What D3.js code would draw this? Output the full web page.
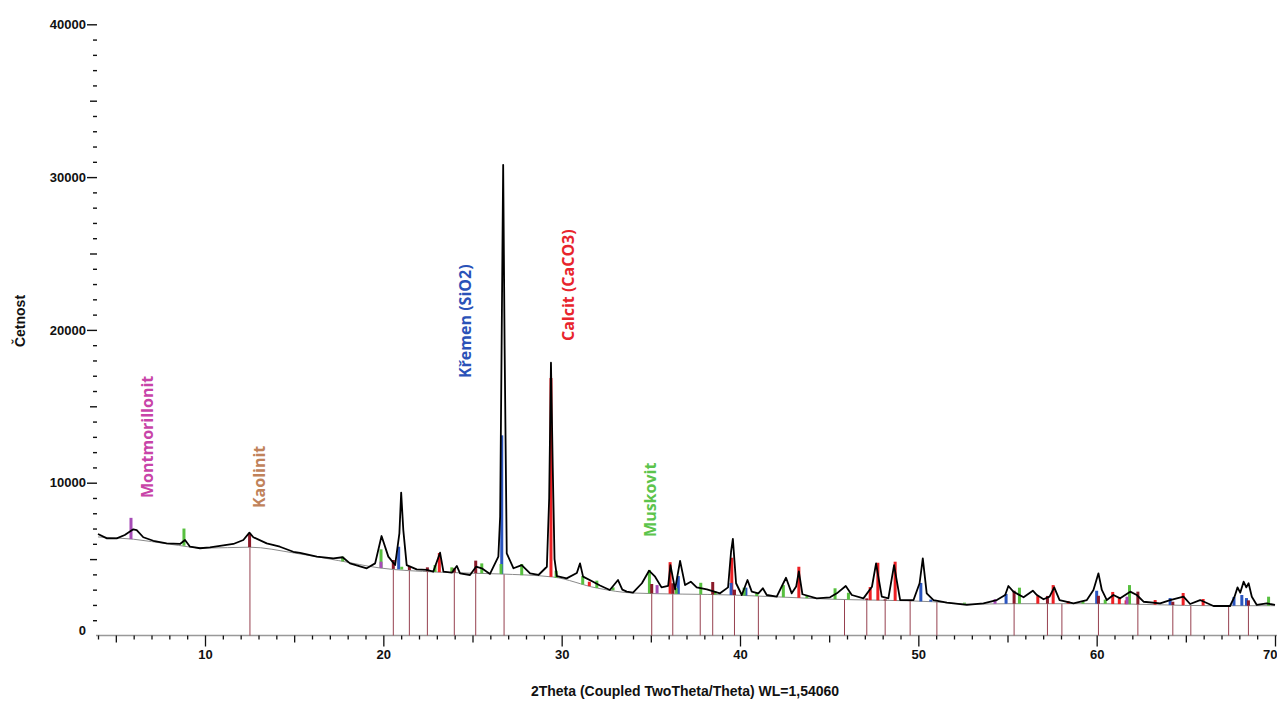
<!DOCTYPE html>
<html>
<head>
<meta charset="utf-8">
<script src="https://cdn.jsdelivr.net/npm/d3@7"></script>
<style>
  body { margin: 0; background: #fff; }
  svg { display: block; }
  .axis text { font-family: "Liberation Sans", Arial, sans-serif; font-weight: bold; font-size: 13px; fill: #111; }
  .phase { font-family: "Open Sans", sans-serif; font-weight: bold; font-size: 16px; }
  .title { font-family: "Liberation Sans", Arial, sans-serif; font-weight: bold; font-size: 14px; fill: #111; }
</style>
</head>
<body>
<script>
var w = 1277;
var h = 702;

// measured pattern: [2theta, counts]
var profile = [
[4.0,6640],[4.5,6360],[5.05,6360],[5.5,6580],[5.98,6950],[6.17,6900],[6.54,6430],[7.1,6200],
[7.85,6030],[8.6,5990],[8.88,6250],[9.16,5810],[9.72,5710],[10.28,5770],[10.84,5860],[11.59,5990],
[12.15,6250],[12.49,6730],[12.71,6430],[13.46,6030],[14.2,5810],[14.95,5480],[15.33,5400],[16.27,5160],
[17.2,5050],[17.72,5120],[18.13,4720],[19.07,4400],[19.54,4720],[19.9,6510],[20.28,5160],[20.66,4610],
[20.9,6690],[21.0,9350],[21.12,6900],[21.31,4610],[21.87,4330],[22.43,4290],[22.8,4180],[23.18,5420],
[23.37,4180],[23.84,4110],[24.12,4550],[24.3,4070],[24.86,3960],[25.2,4500],[25.52,4400],[25.98,4030],
[26.45,5160],[26.55,7780],[26.64,20000],[26.72,30800],[26.8,19000],[26.92,5380],[27.3,4400],[27.76,4610],
[28.23,4070],[28.7,3960],[29.17,4500],[29.3,9000],[29.4,17850],[29.5,11000],[29.6,5000],[29.73,3890],
[30.28,3740],[30.85,4090],[31.03,4720],[31.2,3850],[31.76,3520],[32.15,3270],[32.7,2980],[33.16,3630],
[33.4,3000],[33.65,2870],[34.0,2800],[34.5,3420],[34.9,4240],[35.24,3850],[35.6,3150],[35.97,3240],
[36.1,4600],[36.36,3020],[36.64,4880],[36.92,3300],[37.24,3520],[37.57,3150],[38.14,3020],[38.88,2760],
[39.33,3150],[39.5,5500],[39.6,6320],[39.78,3420],[40.1,2650],[40.42,3630],[40.66,2870],[41.03,2760],
[41.28,3090],[41.5,2650],[42.06,2540],[42.58,3780],[42.9,2760],[43.15,3200],[43.3,4200],[43.5,2700],
[44.3,2430],[45.05,2500],[45.43,2760],[45.93,3240],[46.27,2650],[46.92,2430],[47.4,3190],[47.63,4720],
[47.95,2540],[48.32,2430],[48.64,4600],[48.98,2320],[49.73,2320],[50.07,3420],[50.25,5050],[50.47,2760],
[50.85,2320],[51.6,2150],[52.72,2000],[53.65,2100],[54.4,2320],[54.87,2650],[55.05,3240],[55.33,2870],
[55.9,2500],[56.42,2930],[56.65,2650],[57.02,2370],[57.36,2540],[57.62,3150],[57.92,2320],[58.7,2100],
[59.45,2320],[59.82,2980],[60.1,4070],[60.29,2980],[60.57,2320],[60.94,2650],[61.32,2430],[61.88,2870],
[62.25,2650],[62.63,2210],[63.56,2100],[64.12,2320],[64.87,2540],[65.24,2060],[65.8,2320],[66.55,1930],
[67.48,1930],[67.73,2540],[67.9,3150],[68.05,2800],[68.24,3520],[68.39,3150],[68.52,3420],[68.7,2540],
[68.98,2000],[69.54,2100],[70.0,2000]
];

// fitted background
var background = [
[4,6450],[6,6300],[8,5980],[10,5720],[12.5,5780],[15,5400],[17.5,4900],[19.8,4420],[23,4150],
[26.5,4030],[29.5,3830],[32,3100],[34,2780],[39.6,2650],[45,2380],[50.8,2210],[53,2050],[55,2080],
[60.2,2080],[66.5,1950],[70,1950]
];

// phase sticks: [2theta, top counts]
var calcit = [[23.14,5400],[29.4,16850],[31.55,3520],[36.08,4800],[39.54,5090],[43.3,4500],[47.3,3170],
[47.73,4760],[48.7,4830],[56.7,2600],[57.56,3300],[58.4,2250],[60.9,2850],[61.27,2450],[61.65,2300],
[63.28,2320],[64.85,2780],[65.97,2390]];
var kremen = [[20.86,5810],[26.64,13100],[36.54,3890],[39.5,3440],[40.33,3130],[50.14,3440],[50.7,2350],
[54.92,2720],[60.0,2930],[64.12,2450],[67.7,2520],[68.14,2650],[68.4,2450]];
var muskovit = [[8.82,7000],[17.72,5160],[19.87,5640],[21.03,4500],[22.9,4610],[23.84,4460],[25.52,4720],
[26.6,4680],[27.76,4680],[29.69,4240],[31.18,3890],[31.97,3590],[32.88,3150],[34.92,4290],[36.42,3100],
[37.8,3450],[38.6,2900],[40.23,3130],[40.94,2800],[42.43,3300],[43.75,2600],[45.33,3090],[46.08,2800],
[52.59,2150],[55.67,3130],[59.23,2250],[60.48,2350],[61.84,3300],[69.64,2540]];
var montmorillonit = [[5.85,7700],[19.87,4830],[35.35,3300],[54.3,2370],[61.7,2540]];
var kaolinit = [[12.5,6700],[20.56,4940],[21.46,4550],[22.47,4460],[23.98,4400],[25.18,4900],[35.05,3370],
[36.23,3420],[38.47,3500],[39.69,3000],[47.11,2430],[48.14,2370],[49.54,2280],[55.37,2930],[57.24,2590],
[60.1,2600],[62.31,2870],[64.27,2210],[68.51,2300]];
var dropLines = [12.52,20.56,21.46,22.47,23.98,25.18,26.77,35.05,36.23,37.77,38.47,39.69,41.03,45.86,
47.11,48.14,49.54,51.04,55.37,57.24,58.05,60.1,62.31,64.27,65.28,67.4,68.51];

// phase names with anchor [2theta, counts]
var phaseNames = ["Montmorillonit","Kaolinit","Křemen (SiO2)","Calcit (CaCO3)","Muskovit"];
var phaseAnchors = [[7.08,9000],[13.37,8340],[24.92,16850],[30.7,19270],[35.3,6450]];
var phaseColors = ["#c844a8","#c0825a","#2a52b8","#e8242c","#5cc44c"];

var yTicks = d3.range(0, 40001, 1000);
var xTicks = d3.range(4, 71, 1);

var xScale = d3.scaleLinear().domain([4, 70]).range([98, 1275]);
var yScale = d3.scaleLinear().domain([0, 40000]).range([635.5, 24.3]);
var bg = d3.scaleLinear().domain(background.map(function(d){ return d[0]; }))
                        .range(background.map(function(d){ return d[1]; }));

var svg = d3.select("body").append("svg").attr("width", w).attr("height", h);

// x axis
var xAxis = d3.axisBottom(xScale).tickValues(xTicks).tickSize(10).tickPadding(4).tickSizeOuter(0)
    .tickFormat(function(d){ return d % 10 === 0 ? d : ""; });
var gx = svg.append("g").attr("class", "axis")
    .attr("transform", "translate(0," + yScale(0) + ")")
    .call(xAxis);
gx.select(".domain").attr("stroke", "#999").attr("stroke-width", 1.6)
    .attr("d", "M96,0H1277");
gx.selectAll(".tick line").attr("stroke", "#111").attr("stroke-width", 1.3)
    .attr("y2", function(d){ return d % 10 === 0 ? 11 : (d % 5 === 0 ? 7 : 4); });
gx.selectAll(".tick").filter(function(d){ return d === 70; })
    .select("text").attr("text-anchor", "end").attr("x", 2);

// y axis
var yAxis = d3.axisLeft(yScale).tickValues(yTicks).tickSize(10).tickPadding(1)
    .tickFormat(function(d){ return d % 10000 === 0 ? d : ""; });
var gy = svg.append("g").attr("class", "axis")
    .attr("transform", "translate(97,0)")
    .call(yAxis);
gy.select(".domain").remove();
gy.selectAll(".tick line").attr("stroke", "#111").attr("stroke-width", 1.4)
    .attr("x2", function(d){ return d % 10000 === 0 ? -10 : (d % 5000 === 0 ? -7 : -4); });
gy.selectAll(".tick").filter(function(d){ return d === 0; })
    .select("text").attr("dy", "-0.1em");
gy.selectAll(".tick").filter(function(d){ return d === 0; }).select("line").remove();

// drop lines
svg.append("g").selectAll("line").data(dropLines).enter().append("line")
    .attr("x1", function(d){ return xScale(d); })
    .attr("x2", function(d){ return xScale(d); })
    .attr("y1", function(d){ return yScale(bg(d)); })
    .attr("y2", yScale(0))
    .attr("stroke", "#96404f")
    .attr("stroke-width", 1);

// background curve
svg.append("path").datum(background)
    .attr("fill", "none").attr("stroke", "#8a8a8a").attr("stroke-width", 1)
    .attr("d", d3.line().curve(d3.curveMonotoneX)
        .x(function(d){ return xScale(d[0]); })
        .y(function(d){ return yScale(d[1]); }));

// sticks
function sticks(data, color) {
  svg.append("g").selectAll("line").data(data).enter().append("line")
      .attr("x1", function(d){ return xScale(d[0]); })
      .attr("x2", function(d){ return xScale(d[0]); })
      .attr("y1", function(d){ return yScale(bg(d[0])); })
      .attr("y2", function(d){ return yScale(d[1]); })
      .attr("stroke", color)
      .attr("stroke-width", 3);
}
sticks(calcit, "#ec2024");
sticks(kremen, "#2a55c0");
sticks(muskovit, "#58c040");
sticks(montmorillonit, "#a64cb6");
sticks(kaolinit, "#8b1a2a");

// pattern
svg.append("path").datum(profile)
    .attr("fill", "none").attr("stroke", "#000").attr("stroke-width", 1.8)
    .attr("stroke-linejoin", "round")
    .attr("d", d3.line()
        .x(function(d){ return xScale(d[0]); })
        .y(function(d){ return yScale(d[1]); }));

// phase labels
svg.append("g").selectAll("text").data(phaseNames).enter().append("text")
    .attr("class", "phase")
    .attr("transform", function(d, i){
      return "translate(" + xScale(phaseAnchors[i][0]) + "," + yScale(phaseAnchors[i][1]) + ") rotate(-90)";
    })
    .attr("fill", function(d, i){ return phaseColors[i]; })
    .text(function(d){ return d; });

// axis titles
svg.append("text").attr("class", "title")
    .attr("transform", "translate(25,321) rotate(-90)")
    .attr("text-anchor", "middle")
    .text("Četnost");
svg.append("text").attr("class", "title")
    .attr("x", 685).attr("y", 696)
    .attr("text-anchor", "middle")
    .text("2Theta (Coupled TwoTheta/Theta) WL=1,54060");
</script>
</body>
</html>
